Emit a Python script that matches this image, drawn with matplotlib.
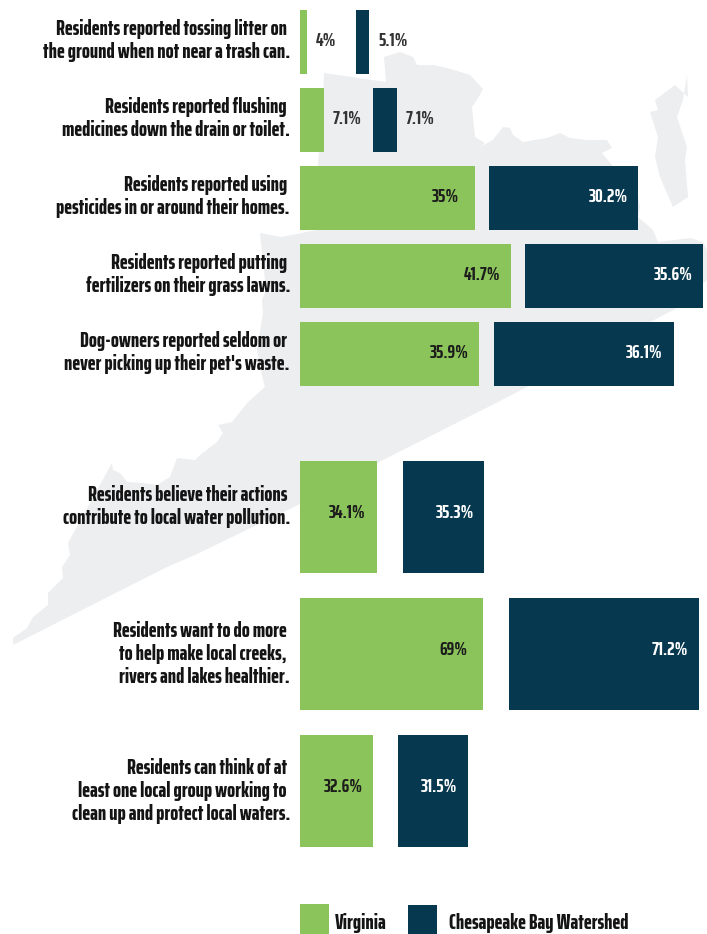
import matplotlib
matplotlib.use("Agg")
import matplotlib.pyplot as plt
from matplotlib.patches import Polygon, Rectangle

GREEN = "#8BC45A"
NAVY = "#06384F"
MAP_GREY = "#EDEEF0"
TEXT = "#1C1C1C"
FONT = ["Saira ExtraCondensed", "Barlow Condensed", "Roboto Condensed", "Liberation Sans", "DejaVu Sans"]
LABEL_SIZE = 15.2
VALUE_SIZE = 14
WEIGHT = 800

top_labels = [
    "Residents reported tossing litter on\nthe ground when not near a trash can.",
    "Residents reported flushing\nmedicines down the drain or toilet.",
    "Residents reported using\npesticides in or around their homes.",
    "Residents reported putting\nfertilizers on their grass lawns.",
    "Dog-owners reported seldom or\nnever picking up their pet's waste.",
]
bottom_labels = [
    "Residents believe their actions\ncontribute to local water pollution.",
    "Residents want to do more\nto help make local creeks,\nrivers and lakes healthier.",
    "Residents can think of at\nleast one local group working to\nclean up and protect local waters.",
]

# printed percentages
top_virginia = ["4%", "7.1%", "35%", "41.7%", "35.9%"]
top_watershed = ["5.1%", "7.1%", "30.2%", "35.6%", "36.1%"]
bottom_virginia = ["34.1%", "69%", "32.6%"]
bottom_watershed = ["35.3%", "71.2%", "31.5%"]

# drawn bar lengths, the artwork is not to a single scale
top_virginia_len = [7, 24, 175, 211, 179]
top_watershed_len = [13, 24, 149, 178, 180]
bottom_virginia_len = [77, 183, 73]
bottom_watershed_len = [81, 190, 70]
top_watershed_start = [356, 373, 489, 525, 494]
bottom_watershed_start = [403, 509, 398]

# outline of the state behind the bars
main_outline = [
    (324, 73), (386, 82), (384, 57), (400, 52), (413, 57), (417, 65), (433, 65),
    (447, 68), (470, 75), (483, 89), (477, 100), (472, 107), (475, 137), (485, 143),
    (480, 147), (493, 140), (503, 127), (510, 128), (513, 135), (523, 142), (547, 138),
    (560, 133), (570, 138), (587, 140), (607, 140), (612, 148), (602, 153), (612, 165),
    (638, 197), (640, 207), (638, 217), (653, 230), (658, 242), (690, 238), (703, 242),
    (707, 250), (707, 280), (677, 308), (502, 400), (381, 461), (300, 504), (195, 555),
    (167, 567), (13, 645), (13, 638), (27, 628), (33, 617), (48, 605), (48, 593),
    (63, 578), (62, 567), (70, 555), (68, 543), (112, 463), (113, 470), (120, 473),
    (127, 482), (143, 483), (157, 485), (170, 477), (177, 458), (195, 460), (200, 455),
    (217, 442), (223, 433), (218, 425), (232, 422), (248, 402), (265, 387), (263, 380),
    (257, 350), (263, 313), (262, 300), (266, 290), (260, 233), (281, 237), (317, 230),
    (318, 163), (322, 120),
]
shore_outline = [
    (687, 75), (688, 97), (675, 85), (655, 100), (658, 110), (650, 112), (658, 137),
    (655, 157), (660, 177), (673, 207), (688, 197), (685, 160), (687, 147), (677, 117),
    (683, 100),
]

fig = plt.figure(figsize=(7.07, 9.34), dpi=100)
ax = fig.add_axes([0, 0, 1, 1])
ax.set_xlim(0, 707)
ax.set_ylim(934, 0)
ax.axis("off")

for outline in (main_outline, shore_outline):
    ax.add_patch(Polygon(outline, closed=True, color=MAP_GREY, lw=0, zorder=0))


def draw_label(label, center):
    lines = label.split("\n")
    first = center - 11.5 * (len(lines) - 1)
    for n, line in enumerate(lines):
        # the closing full stop hangs a little past the other lines
        right = 290 if line.endswith(".") else 287
        ax.text(right, first + 23 * n, line, ha="right", va="center_baseline", color="#141414",
                fontsize=LABEL_SIZE, fontweight=WEIGHT, family=FONT, zorder=3)


def draw_rows(labels, virginia, watershed, v_len, w_len, w_start, tops, height, label_shift, value_shift):
    for i, label in enumerate(labels):
        mid = tops[i] + height / 2
        ax.barh(mid, v_len[i], height=height, left=300, color=GREEN, zorder=2)
        ax.barh(mid, w_len[i], height=height, left=w_start[i], color=NAVY, zorder=2)

        v_end = 300 + v_len[i]
        w_end = w_start[i] + w_len[i]
        y = mid + value_shift
        if v_len[i] < 40:
            ax.text(v_end + 9, y, virginia[i], ha="left", va="center_baseline", color="#333333",
                    fontsize=VALUE_SIZE, fontweight="bold", family=FONT, zorder=3)
            ax.text(w_end + 9, y, watershed[i], ha="left", va="center_baseline", color="#333333",
                    fontsize=VALUE_SIZE, fontweight="bold", family=FONT, zorder=3)
        else:
            ax.text(v_end - 29.5, y, virginia[i], ha="center", va="center_baseline", color=TEXT,
                    fontsize=VALUE_SIZE, fontweight="bold", family=FONT, zorder=3)
            ax.text(w_end - 29.5, y, watershed[i], ha="center", va="center_baseline", color="white",
                    fontsize=VALUE_SIZE, fontweight="bold", family=FONT, zorder=3)

        draw_label(label, mid + label_shift[i])


draw_rows(top_labels, top_virginia, top_watershed, top_virginia_len, top_watershed_len,
          top_watershed_start, [10, 88, 166, 244, 322], 64, [-3.5] * 5, -3)
draw_rows(bottom_labels, bottom_virginia, bottom_watershed, bottom_virginia_len,
          bottom_watershed_len, bottom_watershed_start, [461, 598, 735], 112, [-12.5, -2, -2], -6)

# legend swatches run off the bottom edge
ax.add_patch(Rectangle((300, 904), 29, 30, color=GREEN, lw=0, zorder=2))
ax.add_patch(Rectangle((408, 905), 29, 29, color=NAVY, lw=0, zorder=2))
ax.text(335, 921, "Virginia", ha="left", va="center_baseline", color="#141414",
        fontsize=LABEL_SIZE, fontweight=WEIGHT, family=FONT)
ax.text(449, 921, "Chesapeake Bay Watershed", ha="left", va="center_baseline", color="#141414",
        fontsize=LABEL_SIZE, fontweight=WEIGHT, family=FONT)

fig.savefig("out.png", dpi=100, facecolor="white")
